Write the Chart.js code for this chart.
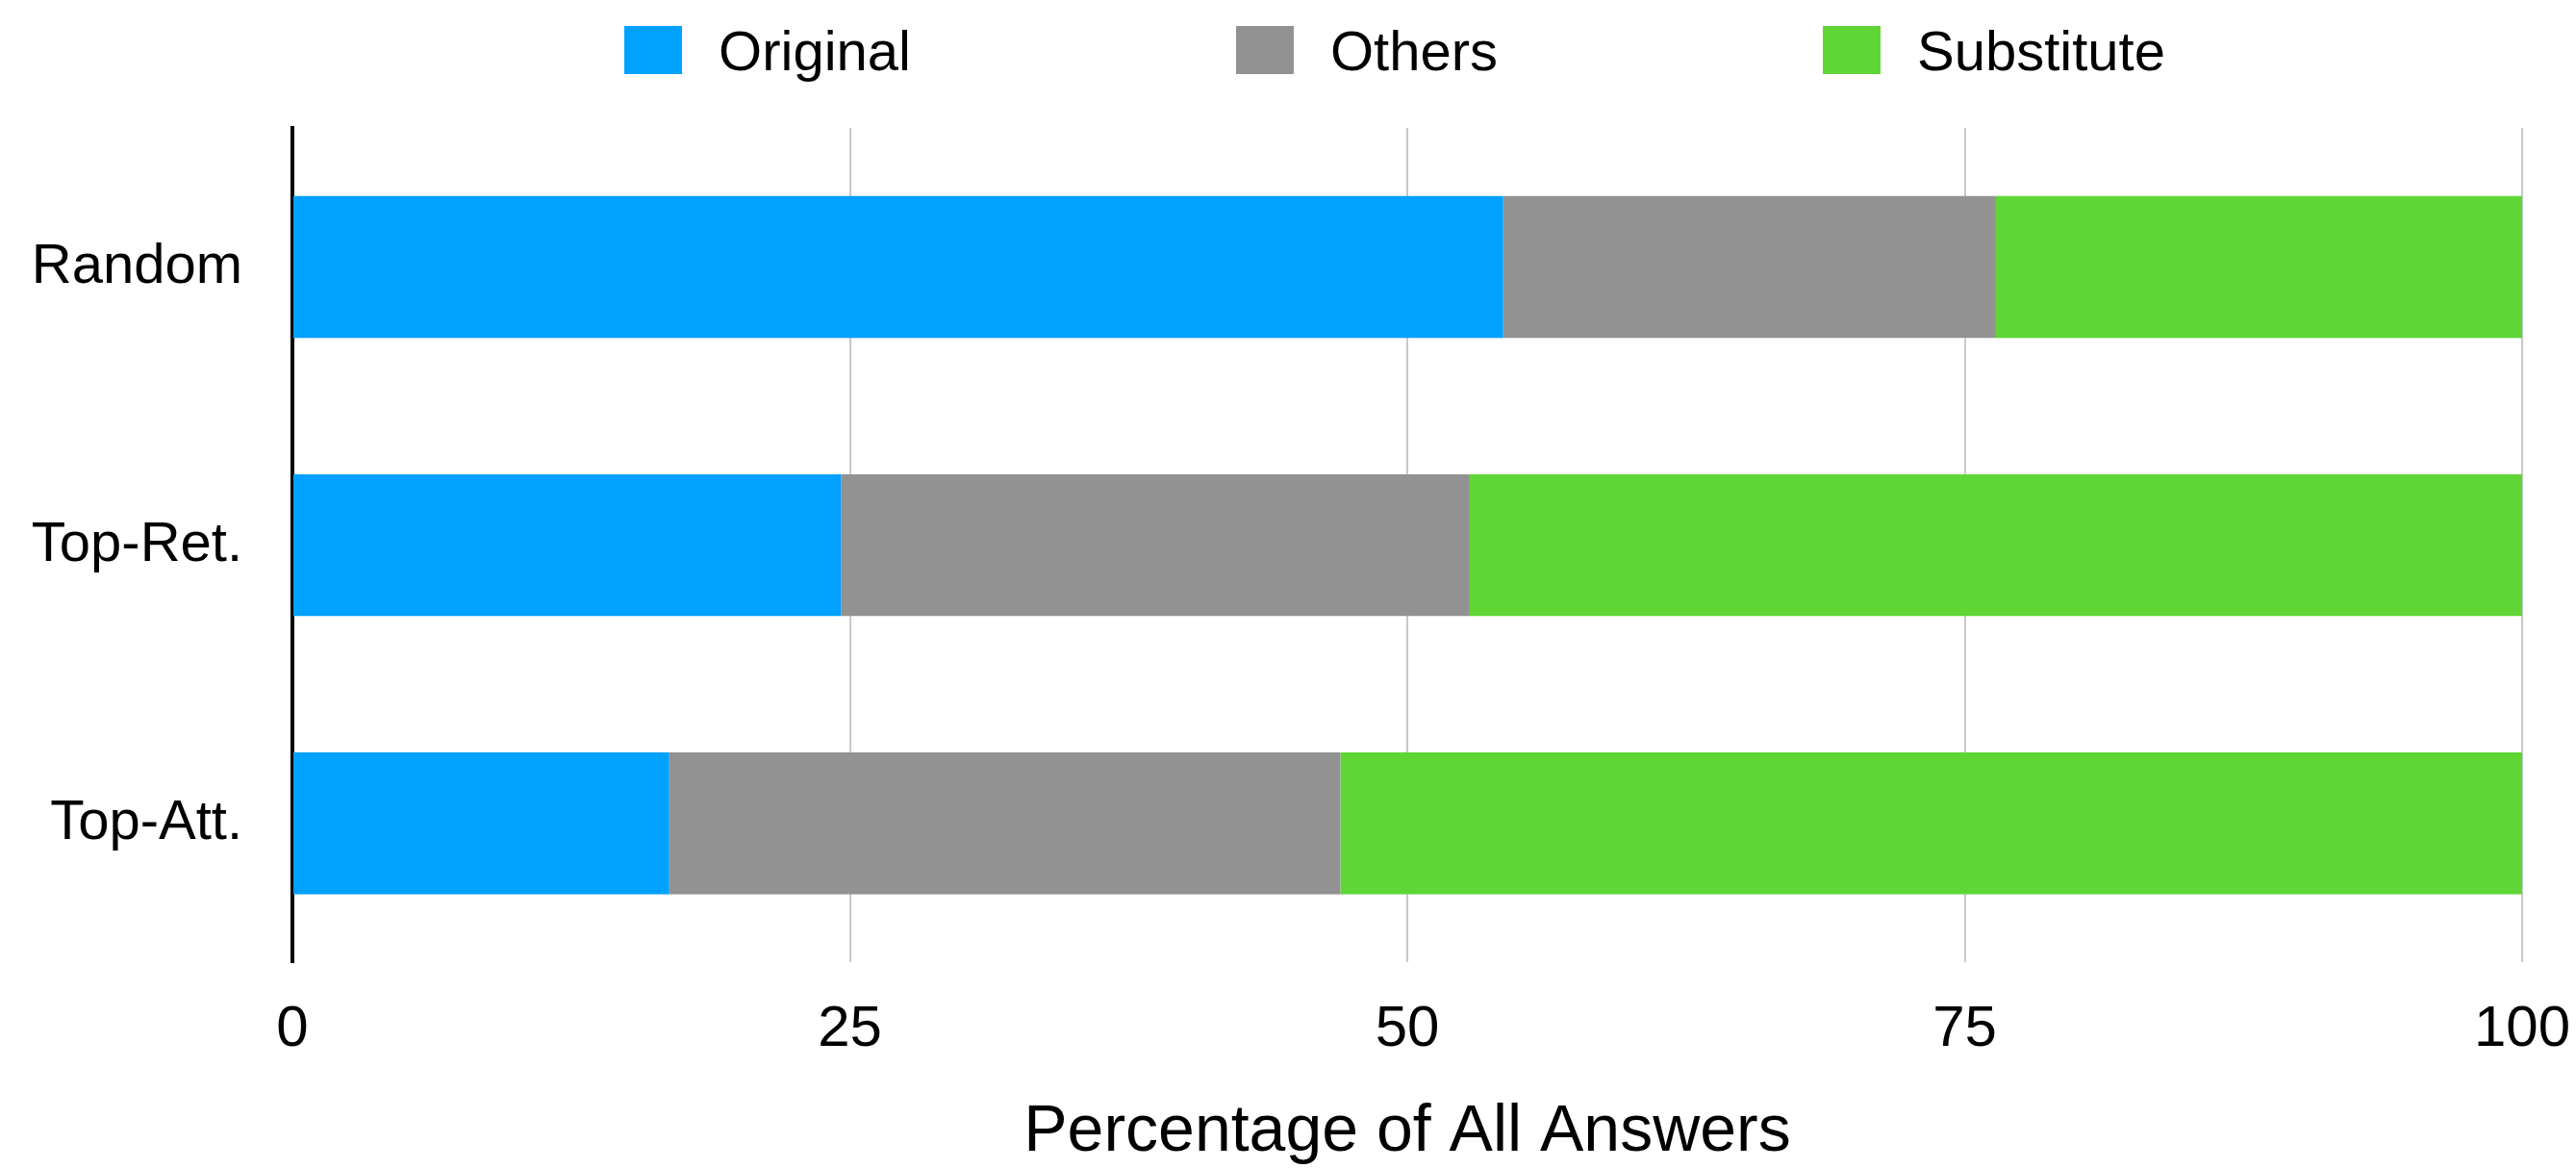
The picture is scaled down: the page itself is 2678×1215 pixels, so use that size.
<!DOCTYPE html>
<html>
<head>
<meta charset="utf-8">
<script src="https://cdn.jsdelivr.net/npm/chart.js@4.4.1/dist/chart.umd.min.js"></script>
<style>
  html, body { margin: 0; padding: 0; background: #fff; }
  #wrap { position: relative; width: 2678px; height: 1215px; }
  #legend {
    position: absolute; top: 27px; height: 50px;
    display: flex; justify-content: center; align-items: center;
    font-family: 'Liberation Sans', Arial, sans-serif; font-size: 58px; color: #000;
  }
  .item { display: flex; align-items: center; margin: 0 169px; white-space: nowrap; }
  .box { width: 60px; height: 50px; margin-right: 38px; }
</style>
</head>
<body>
<div id="wrap">
  <canvas id="answersChart" width="2678" height="1215"></canvas>
  <div id="legend"></div>
</div>
<script>
const categories = ['Random', 'Top-Ret.', 'Top-Att.'];
const original = [54.3, 24.6, 16.9];
const others = [22.1, 28.2, 30.1];
const substitute = [23.6, 47.2, 53.0];
const xTicks = [0, 25, 50, 75, 100];

const FONT = "'Liberation Sans', Arial, sans-serif";

// legend drawn as html so the wide spacing between items can be kept
const htmlLegend = {
    id: 'htmlLegend',
    afterUpdate(chart) {
        const el = document.getElementById('legend');
        const area = chart.chartArea;
        el.innerHTML = '';
        el.style.left = area.left + 'px';
        el.style.width = (area.right - area.left - 26) + 'px';
        const items = chart.options.plugins.legend.labels.generateLabels(chart);
        items.forEach(it => {
            const item = document.createElement('div');
            item.className = 'item';
            const sw = document.createElement('span');
            sw.className = 'box';
            sw.style.background = it.fillStyle;
            const txt = document.createElement('span');
            txt.textContent = it.text;
            item.appendChild(sw);
            item.appendChild(txt);
            el.appendChild(item);
        });
    }
};

const ctx = document.getElementById('answersChart').getContext('2d');

new Chart(ctx, {
    type: 'bar',
    data: {
        labels: categories,
        datasets: [
            { label: 'Original', data: original, backgroundColor: '#00A1FF' },
            { label: 'Others', data: others, backgroundColor: '#929292' },
            { label: 'Substitute', data: substitute, backgroundColor: '#5FD636' }
        ]
    },
    options: {
        indexAxis: 'y',
        responsive: false,
        animation: false,
        datasets: {
            bar: { categoryPercentage: 1, barPercentage: 0.51, borderWidth: 0 }
        },
        layout: {
            padding: { top: 133, left: 0, right: 56, bottom: 0 }
        },
        plugins: {
            legend: { display: false },
            tooltip: { enabled: false }
        },
        scales: {
            x: {
                stacked: true,
                min: 0,
                max: 100,
                afterBuildTicks: s => { s.ticks = xTicks.map(v => ({ value: v })); },
                afterFit: s => { s.paddingLeft = 0; s.paddingRight = 0; },
                grid: { color: '#c8c8c8', lineWidth: 2, drawTicks: false },
                border: { display: false },
                ticks: {
                    color: '#000',
                    padding: 34,
                    maxRotation: 0,
                    font: { size: 60, family: FONT }
                },
                title: {
                    display: true,
                    text: 'Percentage of All Answers',
                    color: '#000',
                    font: { size: 68, family: FONT, lineHeight: 1.1 },
                    padding: { top: 0, bottom: 0 }
                }
            },
            y: {
                stacked: true,
                afterFit: s => { s.width = 304; },
                grid: { display: false, drawTicks: false },
                border: { display: true, color: '#000', width: 4 },
                ticks: {
                    color: '#000',
                    padding: 52,
                    font: { size: 58, family: FONT }
                }
            }
        }
    },
    plugins: [htmlLegend]
});
</script>
</body>
</html>
